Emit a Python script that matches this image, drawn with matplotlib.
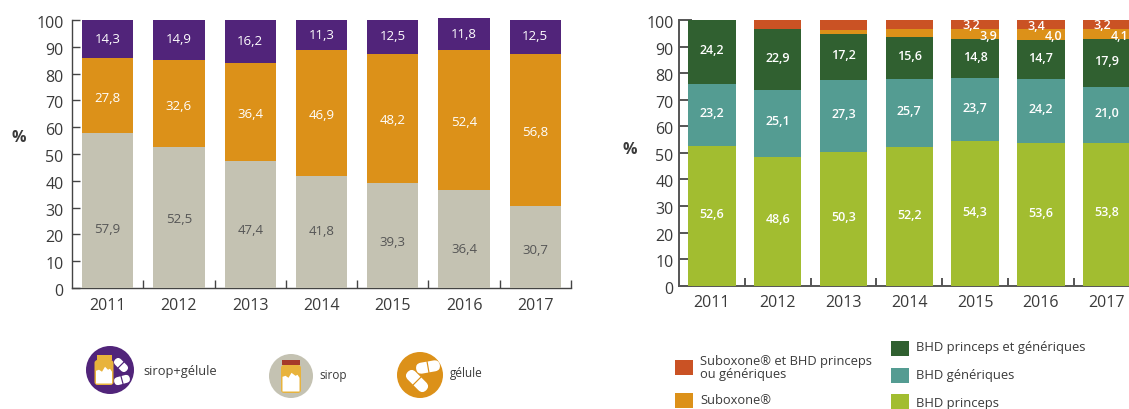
import numpy as np
import matplotlib
matplotlib.use("Agg")
import matplotlib.pyplot as plt
from matplotlib.patches import Circle, FancyBboxPatch, Polygon, Rectangle
from matplotlib.transforms import Affine2D

plt.rcParams['font.family'] = ['Open Sans', 'DejaVu Sans']

years = ['2011', '2012', '2013', '2014', '2015', '2016', '2017']

# left chart
sirop = [57.9, 52.5, 47.4, 41.8, 39.3, 36.4, 30.7]
gelule = [27.8, 32.6, 36.4, 46.9, 48.2, 52.4, 56.8]
sirop_gelule = [14.3, 14.9, 16.2, 11.3, 12.5, 11.8, 12.5]

# right chart
bhd_princeps = [52.6, 48.6, 50.3, 52.2, 54.3, 53.6, 53.8]
bhd_generiques = [23.2, 25.1, 27.3, 25.7, 23.7, 24.2, 21.0]
bhd_les_deux = [24.2, 22.9, 17.2, 15.6, 14.8, 14.7, 17.9]
suboxone = [0, 0, 1.6, 3.0, 3.9, 4.0, 4.1]
suboxone_bhd = [0, 3.4, 3.6, 3.5, 3.2, 3.4, 3.2]

# gray labels do not sit in the middle of their segment
sirop_label_y = [22, 25.7, 21.6, 21, 17, 14.5, 14]

PURPLE = '#51247a'
ORANGE = '#dc9119'
GRAY = '#c4c2b2'
DGREEN = '#306030'
TEAL = '#549c92'
LIME = '#a2bd30'
RED = '#ca5224'
JAR = '#e8b33c'
TXT = '#3a3a3a'

W, H = 1129, 409
fig = plt.figure(figsize=(W / 100, H / 100), dpi=100)


def make_axes(x0, x1, y_top, y_bot, spine_col, lw, ylen, ypad):
    ax = fig.add_axes([x0 / W, 1 - y_bot / H, (x1 - x0) / W, (y_bot - y_top) / H])
    ax.set_xlim(-0.5, 6.5)
    ax.set_ylim(0, 100)
    ax.set_yticks(np.arange(0, 101, 10))
    ax.set_xticks(np.arange(7))
    ax.set_xticklabels(years)
    ax.set_xticks(np.arange(7) + 0.5, minor=True)
    ax.tick_params(axis='x', which='major', length=0, labelsize=11.5, labelcolor=TXT, pad=7)
    ax.tick_params(axis='x', which='minor', direction='in', length=6, width=lw, color=spine_col)
    ax.tick_params(axis='y', direction='in', length=ylen, width=lw, color=spine_col,
                   labelsize=11.5, labelcolor=TXT, pad=ypad)
    for lab in ax.get_yticklabels():
        lab.set_transform(lab.get_transform() + Affine2D().translate(0, -2))
    ax.spines['top'].set_visible(False)
    ax.spines['right'].set_visible(False)
    for s in ['left', 'bottom']:
        ax.spines[s].set_color(spine_col)
        ax.spines[s].set_linewidth(lw)
    ax.set_axisbelow(True)
    return ax


x = np.arange(7)
bar_w = 0.72

# left chart
ax1 = make_axes(72, 571, 20, 288, '#444444', 1.0, 6, 6)
ax1.bar(x, sirop, bar_w, color=GRAY, clip_on=False, zorder=3)
ax1.bar(x, gelule, bar_w, bottom=sirop, color=ORANGE, clip_on=False, zorder=3)
ax1.bar(x, sirop_gelule, bar_w, bottom=np.add(sirop, gelule), color=PURPLE, clip_on=False, zorder=3)

for i in range(7):
    ax1.text(i, sirop_label_y[i], str(sirop[i]).replace('.', ','), color='#555555',
             fontsize=9.5, ha='center', va='center', zorder=4)
    ax1.text(i, sirop[i] + gelule[i] / 2 - 1, str(gelule[i]).replace('.', ','), color='white',
             fontsize=9.5, ha='center', va='center', zorder=4)
    ax1.text(i, sirop[i] + gelule[i] + sirop_gelule[i] / 2, str(sirop_gelule[i]).replace('.', ','),
             color='white', fontsize=9.5, ha='center', va='center', zorder=4)

# right chart, runs past the edge of the picture
ax2 = make_axes(679, 1139.6, 20, 285.7, '#555555', 1.4, 9, 4)
stack = np.zeros(7)
for vals, col in [(bhd_princeps, LIME), (bhd_generiques, TEAL), (bhd_les_deux, DGREEN),
                  (suboxone, ORANGE), (suboxone_bhd, RED)]:
    ax2.bar(x, vals, bar_w, bottom=stack, color=col, clip_on=False, zorder=3)
    if col in (LIME, TEAL, DGREEN):
        for i in range(7):
            ax2.text(i, stack[i] + vals[i] / 2 + 0.5, str(vals[i]).replace('.', ','), color='white',
                     fontsize=9, fontweight='semibold', ha='center', va='center', zorder=4)
    stack = stack + np.array(vals)

# small segments: labels pushed sideways, only 2015-2017
for i in [4, 5, 6]:
    base = bhd_princeps[i] + bhd_generiques[i] + bhd_les_deux[i]
    ax2.text(i + 0.33, base + suboxone[i] / 2 - 0.8, str(suboxone[i]).replace('.', ','), color='white',
             fontsize=9, fontweight='semibold', ha='right', va='center', zorder=4)
    ax2.text(i - 0.2, base + suboxone[i] + suboxone_bhd[i] / 2 - 0.5, str(suboxone_bhd[i]).replace('.', ','),
             color='white', fontsize=9, fontweight='semibold', ha='left', va='center', zorder=4,
             clip_on=False)

# overlay in pixel coordinates for the legends and the % signs
ov = fig.add_axes([0, 0, 1, 1], zorder=10)
ov.set_xlim(0, W)
ov.set_ylim(H, 0)
ov.axis('off')

ov.text(19, 138, '%', fontsize=11.5, fontweight='bold', color=TXT, ha='center', va='center')
ov.text(630, 150, '%', fontsize=11.5, fontweight='bold', color=TXT, ha='center', va='center')


def jar(cx, top, w, h, cap, cap_w):
    ov.add_patch(FancyBboxPatch((cx - w / 2, top), w, h, boxstyle='round,pad=0,rounding_size=3',
                                fc=JAR, ec='none'))
    ov.add_patch(Rectangle((cx - cap_w / 2, top - 5), cap_w, 5, fc=cap, ec='none'))
    # white content with a jagged top
    l, r = cx - w / 2 + 1.5, cx + w / 2 - 1.5
    t = top + h * 0.35
    b = top + h - 1.5
    ov.add_patch(Polygon([(l, b), (l, t + 2), (l + 3, t + 1), (l + 6, t + 3), (l + 9, t - 2),
                          (r - 4, t + 1), (r - 2, t), (r, t + 3), (r, b)], fc='white', ec='none'))


def pill(cx, cy, length, thick, angle, bg):
    tr = Affine2D().rotate_deg_around(cx, cy, angle) + ov.transData
    p = FancyBboxPatch((cx - length / 2, cy - thick / 2), length, thick,
                       boxstyle='round,pad=0,rounding_size=%f' % (thick / 2), fc='white', ec='none')
    p.set_transform(tr)
    ov.add_patch(p)
    gap = Rectangle((cx - 0.6, cy - thick / 2 - 1), 1.2, thick + 2, fc=bg, ec='none')
    gap.set_transform(tr)
    ov.add_patch(gap)


ov.add_patch(Circle((110, 370), 24, fc=PURPLE, ec='none'))
jar(104, 360, 19, 25, JAR, 15)
pill(121, 365, 16, 8, 45, PURPLE)
pill(122, 380, 16, 8, -15, PURPLE)

ov.add_patch(Circle((291, 376), 22, fc=GRAY, ec='none'))
jar(291, 365, 20, 28, '#a5392a', 18)

ov.add_patch(Circle((420, 375), 23, fc=ORANGE, ec='none'))
pill(428, 367, 24, 11, -10, ORANGE)
pill(417, 381, 26, 11, 45, ORANGE)

ov.text(143, 371, 'sirop+gélule', fontsize=9.3, color=TXT, va='center')
ov.text(319, 376, 'sirop', fontsize=8.5, color=TXT, va='center')
ov.text(450, 373, 'gélule', fontsize=8.5, color=TXT, va='center')

for x0, y0, col in [(675, 360, RED), (675, 393, ORANGE), (891, 341, DGREEN), (891, 368, TEAL), (891, 394, LIME)]:
    ov.add_patch(Rectangle((x0, y0), 18, 15, fc=col, ec='none'))

ov.text(700, 362, 'Suboxone® et BHD princeps', fontsize=9.3, color=TXT, va='center')
ov.text(700, 374.5, 'ou génériques', fontsize=9.3, color=TXT, va='center')
ov.text(700, 400, 'Suboxone®', fontsize=9.3, color=TXT, va='center')
ov.text(916, 348, 'BHD princeps et génériques', fontsize=9.4, color=TXT, va='center')
ov.text(916, 375, 'BHD génériques', fontsize=9.4, color=TXT, va='center')
ov.text(916, 403, 'BHD princeps', fontsize=9.4, color=TXT, va='center')

fig.savefig('out.png', dpi=100)
